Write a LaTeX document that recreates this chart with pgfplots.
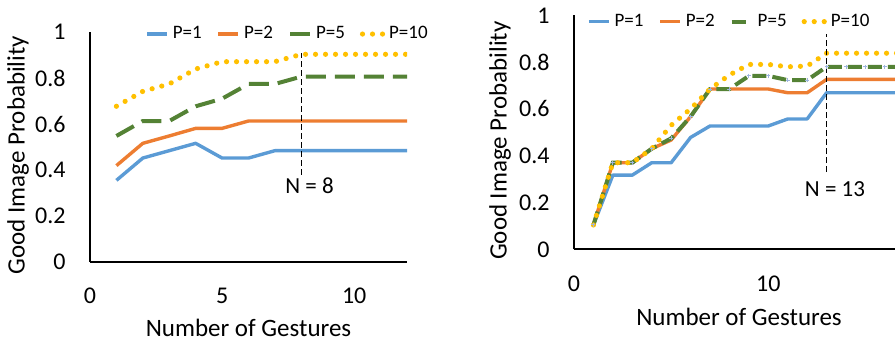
\documentclass[border=0pt]{standalone}
\usepackage{fontspec}
\setmainfont{Carlito}
\usepackage{pgfplots}
\pgfplotsset{compat=1.18}
\definecolor{cblue}{HTML}{5B9BD5}
\definecolor{corange}{HTML}{ED7D31}
\definecolor{cgreen}{HTML}{548235}
\definecolor{cyellow}{HTML}{FFC000}
\definecolor{cmark}{HTML}{9DB5DE}
\pgfplotsset{
 mystyle/.style={
  scale only axis, axis lines=left, axis line style={-, line width=0.9pt, black},
  major tick length=0pt, ymin=0, ymax=1,
  ytick={0,0.2,0.4,0.6,0.8,1}, yticklabels={0,0.2,0.4,0.6,0.8,1},
  tick label style={font=\fontsize{12}{14}\selectfont, inner sep=0pt},
  yticklabel style={anchor=east, xshift=-12pt},
  xticklabel style={anchor=north, yshift=-12.8pt},
  label style={font=\fontsize{12.5}{15}\selectfont},
  legend columns=4,
  legend image code/.code={\draw[##1] (0pt,0pt) -- (10pt,0pt);},
  legend style={draw=none, fill=none, inner sep=0pt, font=\fontsize{9.5}{11}\selectfont,
    /tikz/every even column/.append style={column sep=5.5pt},
    nodes={inner xsep=2pt, inner ysep=1pt}},
 },
 s1/.style={cblue, line width=1.7pt, line join=round},
 s2/.style={corange, line width=1.7pt, line join=round},
 s10/.style={cyellow, line width=2.6pt, line cap=round, dash pattern=on 0pt off 5pt},
 nline/.style={black, line width=0.8pt, dash pattern=on 3pt off 1.5pt},
}
\begin{document}
\begin{tikzpicture}
\path[use as bounding box] (0,0) rectangle (447.5pt,171pt);
% left panel
\begin{axis}[mystyle, at={(45pt,40pt)}, anchor=south west,
  width=158.5pt, height=115pt, xmin=0, xmax=12,
  xtick={0,5,10}, xticklabels={0,5,10},
  xlabel={Number of Gestures},
  xlabel style={at={([yshift=-33pt]axis description cs:0.5,0)}, anchor=center},
  ylabel={Good Image Probability},
  ylabel style={at={([xshift=-36pt]axis description cs:0,0.465)}, anchor=center},
  legend style={at={(axis description cs:0.1735,0.991)}, anchor=west},
]
\addplot[s1] coordinates {(1,0.355)(2,0.452)(3,0.484)(4,0.516)(5,0.452)(6,0.452)(7,0.484)(8,0.484)(9,0.484)(10,0.484)(11,0.484)(12,0.484)};
\addlegendentry{P=1}
\addplot[s2] coordinates {(1,0.419)(2,0.516)(3,0.548)(4,0.581)(5,0.581)(6,0.613)(7,0.613)(8,0.613)(9,0.613)(10,0.613)(11,0.613)(12,0.613)};
\addlegendentry{P=2}
\addplot[cgreen, line width=2pt, dash pattern=on 10pt off 4.5pt] coordinates {(1,0.548)(2,0.613)(3,0.613)(4,0.677)(5,0.710)(6,0.774)(7,0.774)(8,0.806)(9,0.806)(10,0.806)(11,0.806)(12,0.806)};
\addlegendentry{P=5}
\addplot[s10] coordinates {(1,0.677)(2,0.742)(3,0.774)(4,0.839)(5,0.871)(6,0.871)(7,0.871)(8,0.903)(9,0.903)(10,0.903)(11,0.903)(12,0.903)};
\addlegendentry{P=10}
\addplot[nline, forget plot] coordinates {(8,0.38)(8,0.91)};
\node[font=\fontsize{11.5}{13}\selectfont] at (axis cs:8.31,0.332) {N = 8};
\end{axis}
% right panel
\begin{axis}[mystyle, at={(287pt,46.35pt)}, anchor=south west,
  width=160.5pt, height=117pt, xmin=0, xmax=16.52,
  xtick={0,10}, xticklabels={0,10},
  xticklabel style={yshift=-0.5pt},
  xlabel={Number of Gestures},
  xlabel style={at={([yshift=-34pt]axis description cs:0.514,0)}, anchor=center},
  ylabel={Good Image Probability},
  ylabel style={at={([xshift=-37pt]axis description cs:0,0.464)}, anchor=center},
  legend style={at={(axis description cs:0.0396,0.973)}, anchor=west},
]
\addplot[s1] coordinates {(1,0.104)(2,0.317)(3,0.317)(4,0.370)(5,0.370)(6,0.478)(7,0.527)(8,0.527)(9,0.527)(10,0.527)(11,0.557)(12,0.557)(13,0.669)(14,0.669)(15,0.669)(16,0.669)(17,0.669)};
\addlegendentry{P=1}
\addplot[s2] coordinates {(1,0.104)(2,0.370)(3,0.370)(4,0.430)(5,0.467)(6,0.567)(7,0.685)(8,0.685)(9,0.685)(10,0.685)(11,0.669)(12,0.669)(13,0.726)(14,0.726)(15,0.726)(16,0.726)(17,0.726)};
\addlegendentry{P=2}
\addplot[cgreen, line width=2pt, dash pattern=on 7pt off 3pt, mark=+, mark size=1pt, mark options={solid, cmark, line width=0.5pt}] coordinates {(1,0.104)(2,0.370)(3,0.370)(4,0.430)(5,0.474)(6,0.567)(7,0.685)(8,0.685)(9,0.741)(10,0.741)(11,0.723)(12,0.723)(13,0.780)(14,0.780)(15,0.780)(16,0.780)(17,0.780)};
\addlegendentry{P=5}
\addplot[s10] coordinates {(1,0.104)(2,0.370)(3,0.370)(4,0.430)(5,0.530)(6,0.600)(7,0.685)(8,0.745)(9,0.790)(10,0.790)(11,0.780)(12,0.783)(13,0.838)(14,0.838)(15,0.838)(16,0.838)(17,0.838)};
\addlegendentry{P=10}
\addplot[nline, forget plot] coordinates {(13,0.33)(13,0.92)};
\node[font=\fontsize{11.5}{13}\selectfont] at (axis cs:13.43,0.256) {N = 13};
\end{axis}
\end{tikzpicture}
\end{document}
